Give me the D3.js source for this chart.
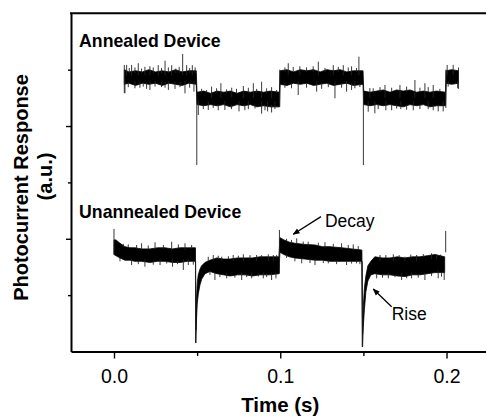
<!DOCTYPE html>
<html>
<head>
<meta charset="utf-8">
<script src="https://cdn.jsdelivr.net/npm/d3@7/dist/d3.min.js"></script>
<style>
  html, body { margin: 0; padding: 0; background: #fff; }
  svg { display: block; }
  text { font-family: "Liberation Sans", Arial, sans-serif; fill: #000; }
  .axis path, .axis line { stroke: #000; }
  .lbl { font-weight: bold; }
</style>
</head>
<body>
<div id="chart"></div>
<script>
// Photocurrent response vs time, annealed vs unannealed device.
// Traces are drawn as a read-off envelope band [time, upper, lower] plus noise hairs [time, from, to].

const xMajor = [0, 0.1, 0.2];
const xMinor = [0.05, 0.15];
const yMajor = [1, 2];
const yMinor = [0.5, 1.5, 2.5];

const annealedBand = [
  [0.0062, 2.50, 2.37], [0.0090, 2.48, 2.38], [0.0130, 2.49, 2.36], [0.0170, 2.48, 2.38],
  [0.0210, 2.50, 2.37], [0.0250, 2.48, 2.38], [0.0290, 2.49, 2.36], [0.0330, 2.48, 2.38],
  [0.0370, 2.50, 2.37], [0.0410, 2.48, 2.36], [0.0450, 2.49, 2.38], [0.0495, 2.49, 2.37],
  [0.0499, 2.30, 2.19], [0.0540, 2.31, 2.18], [0.0580, 2.29, 2.19], [0.0620, 2.31, 2.18],
  [0.0660, 2.30, 2.19], [0.0700, 2.31, 2.17], [0.0740, 2.29, 2.19], [0.0780, 2.31, 2.18],
  [0.0820, 2.30, 2.19], [0.0860, 2.31, 2.17], [0.0900, 2.30, 2.18], [0.0940, 2.31, 2.17],
  [0.0995, 2.30, 2.17],
  [0.0999, 2.49, 2.37], [0.1040, 2.50, 2.36], [0.1080, 2.48, 2.38], [0.1120, 2.50, 2.37],
  [0.1160, 2.49, 2.38], [0.1200, 2.50, 2.36], [0.1240, 2.48, 2.37], [0.1280, 2.50, 2.38],
  [0.1320, 2.49, 2.36], [0.1360, 2.50, 2.37], [0.1400, 2.48, 2.38], [0.1440, 2.49, 2.36],
  [0.1498, 2.49, 2.37],
  [0.1502, 2.31, 2.19], [0.1540, 2.30, 2.18], [0.1580, 2.31, 2.19], [0.1620, 2.32, 2.18],
  [0.1660, 2.30, 2.19], [0.1700, 2.32, 2.18], [0.1740, 2.31, 2.17], [0.1780, 2.32, 2.19],
  [0.1820, 2.30, 2.18], [0.1860, 2.31, 2.19], [0.1900, 2.30, 2.17], [0.1940, 2.31, 2.18],
  [0.1994, 2.30, 2.18],
  [0.1998, 2.49, 2.38], [0.2030, 2.50, 2.37], [0.2072, 2.49, 2.38]
];

const annealedHairs = [
  // first high plateau
  [0.0062, 2.293, 2.542], [0.0076, 2.45, 2.542], [0.0106, 2.45, 2.542], [0.0146, 2.45, 2.557],
  [0.0186, 2.45, 2.526], [0.0216, 2.45, 2.53], [0.0266, 2.45, 2.54], [0.0307, 2.45, 2.58],
  [0.0347, 2.45, 2.54], [0.0413, 2.45, 2.639], [0.0437, 2.45, 2.54], [0.0471, 2.45, 2.54],
  [0.0092, 2.47, 2.515], [0.0126, 2.47, 2.52], [0.0166, 2.47, 2.51], [0.0236, 2.47, 2.52],
  [0.0286, 2.47, 2.515], [0.0327, 2.47, 2.52], [0.0372, 2.47, 2.51], [0.0392, 2.47, 2.525],
  [0.0455, 2.47, 2.515], [0.0488, 2.47, 2.52],
  [0.0066, 2.40, 2.29], [0.0126, 2.40, 2.335], [0.0216, 2.40, 2.32], [0.0247, 2.40, 2.35],
  [0.0327, 2.40, 2.32], [0.0427, 2.40, 2.29], [0.0481, 2.40, 2.305],
  [0.0086, 2.39, 2.345], [0.0156, 2.39, 2.34], [0.0176, 2.39, 2.35], [0.0196, 2.39, 2.33],
  [0.0286, 2.39, 2.345], [0.0307, 2.39, 2.34], [0.0367, 2.39, 2.33], [0.0397, 2.39, 2.345],
  [0.0455, 2.39, 2.34],
  [0.0498, 2.30, 1.654],
  // first low plateau
  [0.0587, 2.25, 2.35], [0.0643, 2.25, 2.38], [0.0708, 2.25, 2.34], [0.0778, 2.25, 2.355],
  [0.0838, 2.25, 2.38], [0.0888, 2.25, 2.393], [0.0948, 2.25, 2.345],
  [0.0527, 2.29, 2.33], [0.0557, 2.29, 2.32], [0.0617, 2.29, 2.335], [0.0677, 2.29, 2.325],
  [0.0737, 2.29, 2.33], [0.0808, 2.29, 2.34], [0.0858, 2.29, 2.33], [0.0918, 2.29, 2.335],
  [0.0978, 2.29, 2.32],
  [0.0507, 2.22, 2.098], [0.0567, 2.22, 2.142], [0.0667, 2.22, 2.142], [0.0752, 2.22, 2.13],
  [0.0808, 2.22, 2.15], [0.0888, 2.22, 2.11], [0.0924, 2.22, 2.13], [0.0968, 2.22, 2.15],
  [0.0537, 2.19, 2.15], [0.0597, 2.19, 2.16], [0.0627, 2.19, 2.14], [0.0707, 2.19, 2.15],
  [0.0787, 2.19, 2.14], [0.0848, 2.19, 2.155], [0.0908, 2.19, 2.14], [0.0948, 2.19, 2.12],
  [0.0997, 2.17, 2.50],
  // second high plateau
  [0.1048, 2.45, 2.557], [0.1118, 2.45, 2.53], [0.1229, 2.45, 2.571], [0.1319, 2.45, 2.54],
  [0.1379, 2.45, 2.54], [0.1429, 2.45, 2.53], [0.1473, 2.45, 2.615],
  [0.1028, 2.48, 2.52], [0.1078, 2.48, 2.525], [0.1158, 2.48, 2.52], [0.1198, 2.48, 2.53],
  [0.1269, 2.48, 2.515], [0.1349, 2.48, 2.525], [0.1409, 2.48, 2.52], [0.1459, 2.48, 2.515],
  [0.1108, 2.40, 2.275], [0.1219, 2.40, 2.305], [0.1329, 2.40, 2.246], [0.1399, 2.40, 2.305],
  [0.1449, 2.40, 2.335],
  [0.1028, 2.38, 2.34], [0.1068, 2.38, 2.335], [0.1158, 2.38, 2.34], [0.1249, 2.38, 2.33],
  [0.1289, 2.38, 2.345], [0.1369, 2.38, 2.34], [0.1429, 2.38, 2.32], [0.1479, 2.38, 2.345],
  [0.1500, 2.36, 1.654],
  // second low plateau
  [0.1539, 2.25, 2.337], [0.1630, 2.25, 2.364], [0.1720, 2.25, 2.364], [0.1810, 2.25, 2.408],
  [0.1870, 2.25, 2.38], [0.1920, 2.25, 2.364],
  [0.1559, 2.30, 2.335], [0.1600, 2.30, 2.345], [0.1670, 2.30, 2.34], [0.1760, 2.30, 2.35],
  [0.1840, 2.30, 2.34], [0.1890, 2.30, 2.345], [0.1960, 2.30, 2.33],
  [0.1529, 2.22, 2.127], [0.1569, 2.22, 2.113], [0.1635, 2.22, 2.14], [0.1725, 2.22, 2.15],
  [0.1800, 2.22, 2.14], [0.1890, 2.22, 2.15], [0.1980, 2.22, 2.13],
  [0.1589, 2.19, 2.15], [0.1670, 2.19, 2.14], [0.1700, 2.19, 2.155], [0.1760, 2.19, 2.145],
  [0.1840, 2.19, 2.15], [0.1920, 2.19, 2.14], [0.1950, 2.19, 2.13],
  [0.1996, 2.16, 2.50],
  // last high piece
  [0.2004, 2.45, 2.542], [0.2040, 2.45, 2.542], [0.2010, 2.40, 2.35], [0.2067, 2.40, 2.335],
  [0.2072, 2.33, 2.52]
];

const unannealedBand = [
  [0.0000, 0.99, 0.86], [0.0012, 0.99, 0.85], [0.0036, 0.96, 0.83], [0.0066, 0.93, 0.81],
  [0.0096, 0.92, 0.81], [0.0126, 0.92, 0.80], [0.0166, 0.91, 0.80], [0.0216, 0.91, 0.79],
  [0.0262, 0.92, 0.80], [0.0307, 0.92, 0.80], [0.0352, 0.91, 0.79], [0.0397, 0.92, 0.79],
  [0.0442, 0.92, 0.80], [0.0490, 0.92, 0.80],
  [0.0492, 0.19, 0.075], [0.0496, 0.46, 0.28], [0.0501, 0.61, 0.43], [0.0507, 0.68, 0.51],
  [0.0517, 0.73, 0.59], [0.0527, 0.76, 0.64], [0.0547, 0.79, 0.69], [0.0577, 0.81, 0.71],
  [0.0619, 0.83, 0.69], [0.0658, 0.82, 0.68], [0.0698, 0.82, 0.67], [0.0743, 0.83, 0.68],
  [0.0788, 0.83, 0.68], [0.0833, 0.83, 0.67], [0.0878, 0.84, 0.68], [0.0935, 0.84, 0.68],
  [0.0992, 0.84, 0.69],
  [0.0998, 1.01, 0.88], [0.1022, 0.99, 0.86], [0.1055, 0.97, 0.84], [0.1088, 0.96, 0.83],
  [0.1148, 0.95, 0.82], [0.1209, 0.945, 0.81], [0.1254, 0.93, 0.81], [0.1299, 0.93, 0.80],
  [0.1371, 0.92, 0.80], [0.1431, 0.91, 0.80], [0.1491, 0.90, 0.80],
  [0.1495, 0.15, 0.04], [0.1500, 0.41, 0.235], [0.1506, 0.56, 0.37], [0.1515, 0.67, 0.53],
  [0.1527, 0.76, 0.625], [0.1545, 0.80, 0.68], [0.1569, 0.84, 0.69], [0.1615, 0.83, 0.68],
  [0.1660, 0.83, 0.68], [0.1705, 0.84, 0.67], [0.1750, 0.83, 0.665], [0.1795, 0.84, 0.68],
  [0.1840, 0.84, 0.68], [0.1885, 0.85, 0.69], [0.1930, 0.86, 0.70], [0.1989, 0.84, 0.70]
];

const unannealedHairs = [
  [0.0000, 0.86, 1.087],
  // first decay plateau
  [0.0166, 0.90, 0.960], [0.0247, 0.90, 0.969], [0.0347, 0.90, 0.974], [0.0427, 0.90, 0.960],
  [0.0056, 0.93, 0.955], [0.0086, 0.92, 0.95], [0.0136, 0.91, 0.945], [0.0206, 0.91, 0.94],
  [0.0297, 0.91, 0.945], [0.0387, 0.91, 0.95], [0.0467, 0.91, 0.945],
  [0.0106, 0.82, 0.767], [0.0186, 0.82, 0.752], [0.0277, 0.82, 0.767], [0.0352, 0.82, 0.752],
  [0.0417, 0.82, 0.723], [0.0447, 0.82, 0.767],
  [0.0036, 0.83, 0.80], [0.0146, 0.80, 0.775], [0.0236, 0.80, 0.77], [0.0317, 0.80, 0.78],
  [0.0382, 0.80, 0.775], [0.0477, 0.80, 0.77],
  [0.0491, 0.80, 0.075],
  // first rise plateau
  [0.0597, 0.80, 0.856], [0.0648, 0.80, 0.841], [0.0717, 0.80, 0.856], [0.0778, 0.80, 0.862],
  [0.0858, 0.80, 0.856], [0.0928, 0.80, 0.862], [0.0958, 0.80, 0.856],
  [0.0567, 0.80, 0.84], [0.0627, 0.82, 0.85], [0.0688, 0.82, 0.845], [0.0748, 0.82, 0.85],
  [0.0818, 0.82, 0.855], [0.0888, 0.83, 0.855], [0.0978, 0.83, 0.855],
  [0.0607, 0.70, 0.634], [0.0678, 0.70, 0.649], [0.0768, 0.70, 0.634], [0.0828, 0.70, 0.649],
  [0.0898, 0.70, 0.649], [0.0948, 0.70, 0.634], [0.0974, 0.70, 0.649],
  [0.0577, 0.72, 0.68], [0.0637, 0.69, 0.66], [0.0727, 0.68, 0.655], [0.0798, 0.69, 0.66],
  [0.0868, 0.69, 0.665], [0.0918, 0.69, 0.66],
  [0.0995, 0.69, 1.078],
  // second decay plateau
  [0.1099, 0.95, 1.004], [0.1168, 0.93, 0.974], [0.1269, 0.92, 0.969], [0.1369, 0.91, 0.960],
  [0.1439, 0.90, 0.950],
  [0.1038, 0.98, 1.00], [0.1068, 0.96, 0.99], [0.1138, 0.95, 0.975], [0.1229, 0.94, 0.965],
  [0.1319, 0.93, 0.955], [0.1409, 0.91, 0.945], [0.1469, 0.90, 0.935],
  [0.1129, 0.82, 0.782], [0.1209, 0.82, 0.767], [0.1289, 0.81, 0.782], [0.1399, 0.81, 0.767],
  [0.1459, 0.81, 0.782],
  [0.1038, 0.86, 0.83], [0.1088, 0.83, 0.80], [0.1179, 0.82, 0.785], [0.1259, 0.81, 0.785],
  [0.1339, 0.80, 0.775], [0.1429, 0.80, 0.78], [0.1479, 0.80, 0.775],
  [0.1493, 0.80, 0.040],
  // second rise plateau
  [0.1600, 0.80, 0.856], [0.1680, 0.80, 0.862], [0.1750, 0.80, 0.841], [0.1820, 0.80, 0.856],
  [0.1910, 0.82, 0.871], [0.1940, 0.82, 0.862],
  [0.1635, 0.83, 0.855], [0.1715, 0.83, 0.855], [0.1785, 0.83, 0.86], [0.1860, 0.84, 0.865],
  [0.1965, 0.84, 0.86],
  [0.1580, 0.70, 0.649], [0.1650, 0.70, 0.649], [0.1730, 0.70, 0.634], [0.1790, 0.70, 0.649],
  [0.1870, 0.70, 0.634], [0.1950, 0.72, 0.649], [0.1986, 0.72, 0.634],
  [0.1615, 0.68, 0.655], [0.1690, 0.68, 0.66], [0.1760, 0.67, 0.65], [0.1830, 0.68, 0.655],
  [0.1910, 0.70, 0.67], [0.1970, 0.70, 0.665],
  [0.1995, 0.88, 1.070]
];

// label anchors in data units: [text, t, v]
const deviceLabels = [["Annealed Device", -0.021, 2.704], ["Unannealed Device", -0.021, 1.182]];
const noteLabels = [["Decay", 0.1269, 1.103], ["Rise", 0.1670, 0.279]];
// arrows: [t0, v0, t1, v1] tail -> head
const noteArrows = [[0.1245, 1.196, 0.1078, 1.040], [0.1670, 0.397, 0.1559, 0.554]];

const W = 486, H = 419;
const x = d3.scaleLinear([-0.02586, 0.22375], [71, 486]);
const y = d3.scaleLinear([0, 3], [351.5, 13.3]);

const svg = d3.select("#chart").append("svg")
  .attr("width", W).attr("height", H)
  .attr("viewBox", `0 0 ${W} ${H}`);

svg.append("defs").append("marker")
  .attr("id", "ah").attr("viewBox", "0 0 10 10")
  .attr("refX", 9).attr("refY", 5)
  .attr("markerWidth", 7).attr("markerHeight", 7)
  .attr("markerUnits", "userSpaceOnUse")
  .attr("orient", "auto")
  .append("path").attr("d", "M0,1 L10,5 L0,9 Z").attr("fill", "#000");

// traces
const band = d3.area().x((d) => x(d[0])).y1((d) => y(d[1])).y0((d) => y(d[2]));
[[annealedBand, annealedHairs], [unannealedBand, unannealedHairs]].forEach(([b, h]) => {
  svg.append("path").datum(b).attr("d", band)
    .attr("fill", "#000").attr("stroke", "#000").attr("stroke-width", 0.8);
  svg.append("g").selectAll("line").data(h).join("line")
    .attr("x1", (d) => x(d[0])).attr("x2", (d) => x(d[0]))
    .attr("y1", (d) => y(d[1])).attr("y2", (d) => y(d[2]))
    .attr("stroke", "#222").attr("stroke-width", 0.9);
});

// axes
const xa = svg.append("g").attr("class", "axis").attr("transform", `translate(0,${y(0)})`);
xa.call(d3.axisBottom(x).tickValues(xMajor).tickSize(7).tickSizeOuter(0).tickPadding(11)
  .tickFormat(d3.format(".1f")));
xa.select(".domain").attr("stroke-width", 2);
xa.selectAll(".tick line").attr("stroke-width", 1.4);
xa.selectAll(".tick text").style("font-size", "19.5px");
svg.append("g").attr("class", "axis").attr("transform", `translate(0,${y(0)})`)
  .call(d3.axisBottom(x).tickValues(xMinor).tickSize(4.5).tickFormat(""))
  .call((g) => g.select(".domain").remove())
  .selectAll(".tick line").attr("stroke-width", 1.4);

const ya = svg.append("g").attr("class", "axis").attr("transform", `translate(${x.range()[0]},0)`);
ya.call(d3.axisLeft(y).tickValues(yMajor).tickSize(5).tickSizeOuter(0).tickFormat(""));
ya.select(".domain").attr("stroke-width", 2);
ya.selectAll(".tick line").attr("stroke-width", 1.4);
svg.append("g").attr("class", "axis").attr("transform", `translate(${x.range()[0]},0)`)
  .call(d3.axisLeft(y).tickValues(yMinor).tickSize(3).tickFormat(""))
  .call((g) => g.select(".domain").remove())
  .selectAll(".tick line").attr("stroke-width", 1.4);

// top frame line
svg.append("line")
  .attr("x1", x.range()[0] - 1).attr("x2", x.range()[1])
  .attr("y1", y(3)).attr("y2", y(3))
  .attr("stroke", "#000").attr("stroke-width", 2);

// axis titles
svg.append("text").attr("class", "lbl")
  .attr("x", (x(0) + x(0.2)) / 2).attr("y", 412).attr("text-anchor", "middle")
  .style("font-size", "20.5px").text("Time (s)");
svg.append("text").attr("class", "lbl")
  .attr("transform", "translate(28,187.5) rotate(-90)").attr("text-anchor", "middle")
  .style("font-size", "20px").text("Photocurrent Response");
svg.append("text").attr("class", "lbl")
  .attr("transform", "translate(52,176.5) rotate(-90)").attr("text-anchor", "middle")
  .style("font-size", "20px").text("(a.u.)");

// annotations
svg.selectAll("text.dev").data(deviceLabels).join("text")
  .attr("class", "dev lbl")
  .attr("x", (d) => x(d[1])).attr("y", (d) => y(d[2]))
  .style("font-size", "17.7px").text((d) => d[0]);
svg.selectAll("text.note").data(noteLabels).join("text")
  .attr("class", "note")
  .attr("x", (d) => x(d[1])).attr("y", (d) => y(d[2]))
  .style("font-size", "17.5px").text((d) => d[0]);
svg.selectAll("line.arrow").data(noteArrows).join("line")
  .attr("class", "arrow")
  .attr("x1", (d) => x(d[0])).attr("y1", (d) => y(d[1]))
  .attr("x2", (d) => x(d[2])).attr("y2", (d) => y(d[3]))
  .attr("stroke", "#000").attr("stroke-width", 1.3)
  .attr("marker-end", "url(#ah)");
</script>
</body>
</html>
